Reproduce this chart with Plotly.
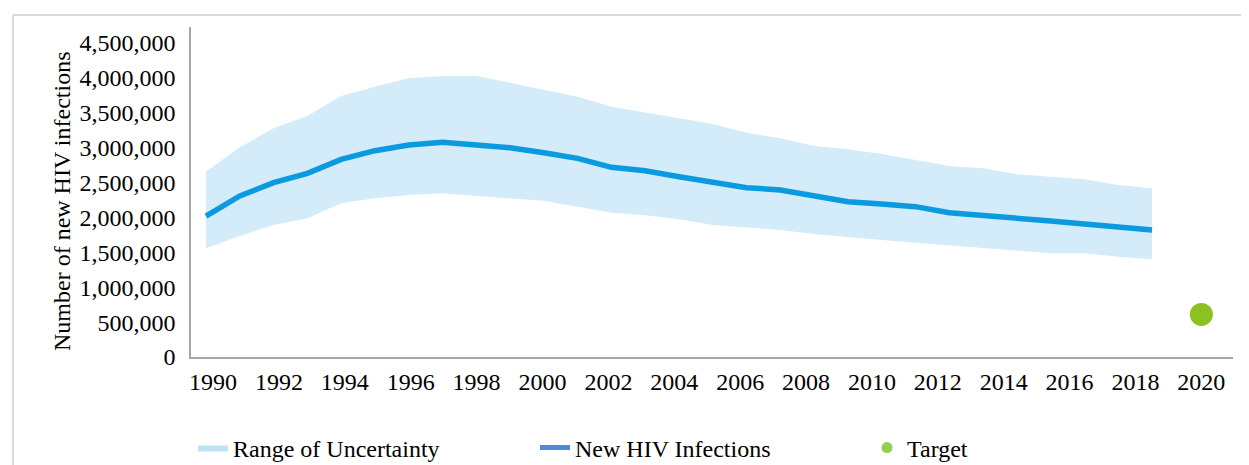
import plotly.graph_objects as go

years = list(range(1990, 2019))
new_infections = [2020000, 2307000, 2497000, 2632000, 2832000, 2956000, 3037000, 3076000, 3037000, 2999000,
                  2927000, 2846000, 2717000, 2669000, 2583000, 2502000, 2426000, 2393000, 2307000, 2225000,
                  2192000, 2154000, 2068000, 2034000, 1987000, 1948000, 1905000, 1867000, 1820000]
upper = [2655000, 3004000, 3276000, 3453000, 3739000, 3873000, 3993000, 4026000, 4026000, 3930000,
         3835000, 3730000, 3586000, 3500000, 3420000, 3338000, 3214000, 3133000, 3023000, 2976000,
         2908000, 2822000, 2736000, 2703000, 2617000, 2583000, 2545000, 2464000, 2417000]
lower = [1557000, 1734000, 1891000, 1987000, 2202000, 2274000, 2321000, 2345000, 2307000, 2274000,
         2240000, 2154000, 2068000, 2030000, 1972000, 1891000, 1858000, 1820000, 1762000, 1715000,
         1676000, 1638000, 1600000, 1557000, 1523000, 1486000, 1486000, 1437000, 1400000]
target_year = [2020]
target_value = [610000]
tick_years = list(range(1990, 2021, 2))
y_ticks = list(range(0, 4500001, 500000))
y_title = "Number of new HIV infections"

FONT = "Liberation Serif, Times New Roman, serif"

fig = go.Figure()
# uncertainty band
fig.add_trace(go.Scatter(x=years, y=lower, mode="lines", line=dict(width=0, color="#d4ebf9"),
                         showlegend=False, hoverinfo="skip", xaxis="x2"))
fig.add_trace(go.Scatter(x=years, y=upper, mode="lines", line=dict(width=0, color="#d4ebf9"),
                         fill="tonexty", fillcolor="#d4ebf9", showlegend=False, xaxis="x2"))
# central estimate
fig.add_trace(go.Scatter(x=years, y=new_infections, mode="lines",
                         line=dict(color="#0a9ae0", width=5.5), showlegend=False, xaxis="x2"))
# target
fig.add_trace(go.Scatter(x=target_year, y=target_value, mode="markers",
                         marker=dict(size=23, color="#8dc021"), showlegend=False))

# legend entries
fig.add_trace(go.Scatter(x=[None], y=[None], mode="lines", name="Range of Uncertainty",
                         fill="toself", fillcolor="#bee3f5", line=dict(width=0, color="#bee3f5"),
                         legend="legend"))
fig.add_trace(go.Scatter(x=[None], y=[None], mode="lines", name="New HIV Infections",
                         line=dict(color="#4a8bdb", width=5), legend="legend2"))
fig.add_trace(go.Scatter(x=[None], y=[None], mode="markers", name="Target",
                         marker=dict(size=11, color="#92d050"), legend="legend3"))

# the page body has an 8px margin, so figure pixels = page pixels - 8
OFF = 8
W, H = 1249, 465
L, T = 191 - OFF, 27 - OFF
R = W - (1233 - OFF)
B = H - (357 - OFF)
pw = W - L - R
ph = H - T - B

def px_x(p):
    return (p - OFF - L) / pw

def px_y(p):
    return (H - B - (p - OFF)) / ph

leg_common = dict(orientation="h", yanchor="middle", xanchor="left",
                  font=dict(family=FONT, size=24, color="#000"), bgcolor="rgba(0,0,0,0)")

fig.update_layout(
    width=W, height=H,
    margin=dict(l=L, r=R, t=T, b=B, autoexpand=False),
    paper_bgcolor="white", plot_bgcolor="white",
    font=dict(family=FONT, color="#000"),
    xaxis=dict(range=[1989.33, 2020.96], tickmode="array", tickvals=tick_years,
               ticktext=[str(y) for y in tick_years], showgrid=False, zeroline=False,
               showline=True, linecolor="#a6a6a6", linewidth=1.5, ticks="", automargin=False,
               tickfont=dict(family=FONT, size=24, color="#000"), ticklabelstandoff=2),
    xaxis2=dict(range=[1989.556, 2020.397], overlaying="x", visible=False),
    yaxis=dict(range=[0, 4728000], tickmode="array", tickvals=y_ticks, tickformat=",",
               showgrid=False, zeroline=False, showline=True, linecolor="#a6a6a6", linewidth=1.5,
               ticks="", automargin=False, tickfont=dict(family=FONT, size=24, color="#000"),
               ticklabelstandoff=9),
    annotations=[dict(text=y_title, textangle=-90, xref="paper", yref="paper",
                      x=px_x(62), y=px_y(202), xanchor="center", yanchor="middle", showarrow=False,
                      font=dict(family=FONT, size=24, color="#000"))],
    legend=dict(x=px_x(193), y=px_y(448), **leg_common),
    legend2=dict(x=px_x(535), y=px_y(448), **leg_common),
    legend3=dict(x=px_x(867), y=px_y(448), **leg_common),
    shapes=[
        dict(type="line", xref="paper", yref="paper", x0=px_x(13), x1=px_x(1270), y0=px_y(15), y1=px_y(15),
             line=dict(color="#d9d9d9", width=2)),
        dict(type="line", xref="paper", yref="paper", x0=px_x(13), x1=px_x(13), y0=px_y(15), y1=px_y(480),
             line=dict(color="#d9d9d9", width=2)),
    ],
)

fig.write_html("out.html")
